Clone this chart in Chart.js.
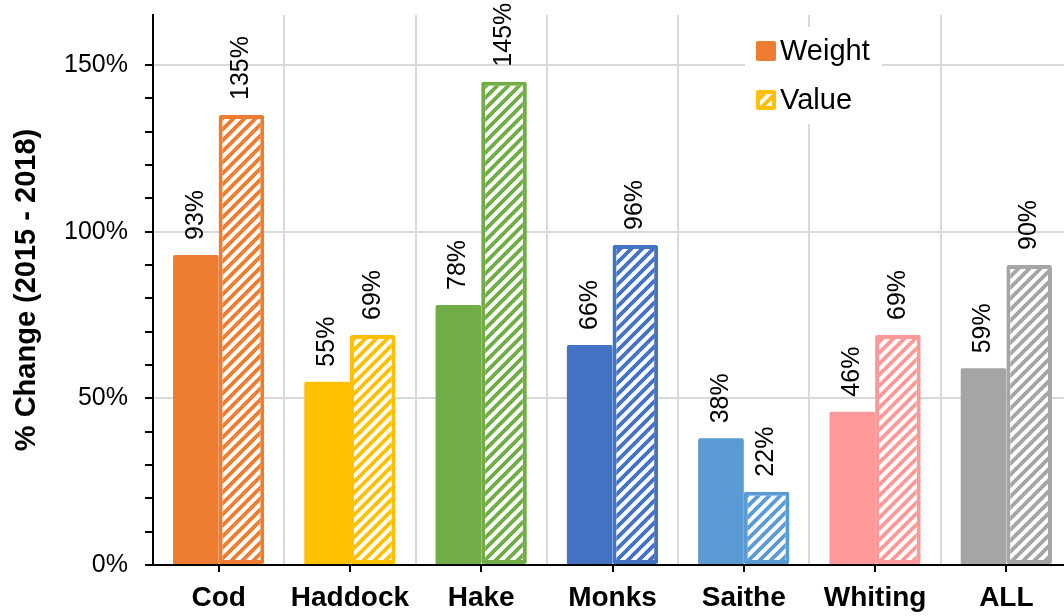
<!DOCTYPE html>
<html>
<head>
<meta charset="utf-8">
<script src="https://cdn.jsdelivr.net/npm/chart.js@4"></script>
<style>
  html, body { margin: 0; padding: 0; overflow: hidden; background: #fff; }
  #wrap { position: absolute; left: 0; top: 0; width: 1072px; height: 616px; }
</style>
</head>
<body>
<div id="wrap"><canvas id="change"></canvas></div>
<script>
const species = ['Cod', 'Haddock', 'Hake', 'Monks', 'Saithe', 'Whiting', 'ALL'];
const weightPct = [93, 55, 78, 66, 38, 46, 59];
const valuePct = [135, 69, 145, 96, 22, 69, 90];
const speciesColors = ['#ED7D31', '#FFC000', '#70AD47', '#4472C4', '#5B9BD5', '#FF9999', '#A5A5A5'];

Chart.defaults.font.family = "'Liberation Sans', Arial, sans-serif";
Chart.defaults.color = '#000';

// white background with diagonal stripes in the bar colour
function hatch(color) {
    const c = document.createElement('canvas');
    c.width = 11; c.height = 11;
    const g = c.getContext('2d');
    g.fillStyle = '#fff';
    g.fillRect(0, 0, 11, 11);
    g.strokeStyle = color;
    g.lineWidth = 3.8;
    g.beginPath();
    g.moveTo(-5.5, 5.5); g.lineTo(5.5, -5.5);
    g.moveTo(0, 11); g.lineTo(11, 0);
    g.moveTo(5.5, 16.5); g.lineTo(16.5, 5.5);
    g.stroke();
    return g.createPattern(c, 'repeat');
}

// rotated value labels above every bar
const barLabels = {
    id: 'barLabels',
    afterDatasetsDraw(chart) {
        const ctx = chart.ctx;
        ctx.save();
        ctx.font = "25px 'Liberation Sans', Arial, sans-serif";
        ctx.fillStyle = '#000';
        ctx.textAlign = 'left';
        ctx.textBaseline = 'middle';
        chart.data.datasets.forEach((ds, di) => {
            chart.getDatasetMeta(di).data.forEach((bar, i) => {
                ctx.save();
                ctx.translate(bar.x, bar.y - 15);
                ctx.rotate(-Math.PI / 2);
                ctx.fillText(Math.round(ds.data[i]) + '%', 0, 0);
                ctx.restore();
            });
        });
        ctx.restore();
    }
};

// x tick marks at category centres (grid lines sit between categories)
const centreTicks = {
    id: 'centreTicks',
    afterDraw(chart) {
        const x = chart.scales.x, ctx = chart.ctx;
        ctx.save();
        ctx.strokeStyle = '#000';
        ctx.lineWidth = 2;
        species.forEach((s, i) => {
            const px = Math.round(x.getPixelForValue(i));
            ctx.beginPath();
            ctx.moveTo(px, x.top);
            ctx.lineTo(px, x.top + 7);
            ctx.stroke();
        });
        ctx.restore();
    }
};

// legend box inside the plot
const insideLegend = {
    id: 'insideLegend',
    afterDatasetsDraw(chart) {
        const ctx = chart.ctx;
        ctx.save();
        ctx.fillStyle = '#fff';
        ctx.fillRect(745, 27, 137, 97);
        const items = [
            { text: chart.data.datasets[0].label, fill: speciesColors[0], border: speciesColors[0], y: 41 },
            { text: chart.data.datasets[1].label, fill: hatch(speciesColors[1]), border: speciesColors[1], y: 90 }
        ];
        items.forEach(it => {
            ctx.beginPath();
            ctx.roundRect(756, it.y, 20, 20, 2);
            ctx.fillStyle = it.border;
            ctx.fill();
            ctx.beginPath();
            ctx.rect(760, it.y + 4, 12, 12);
            ctx.fillStyle = it.fill;
            ctx.fill();
            ctx.fillStyle = '#000';
            ctx.font = "29px 'Liberation Sans', Arial, sans-serif";
            ctx.textAlign = 'left';
            ctx.textBaseline = 'middle';
            ctx.fillText(it.text, 780, it.y + 11);
        });
        ctx.restore();
    }
};

new Chart(document.getElementById('change'), {
    type: 'bar',
    data: {
        labels: species,
        datasets: [
            {
                label: 'Weight',
                data: weightPct,
                backgroundColor: speciesColors,
                borderColor: speciesColors,
                borderWidth: 0,
                borderRadius: 2,
                categoryPercentage: 0.695,
                barPercentage: 1.0
            },
            {
                label: 'Value',
                data: valuePct,
                backgroundColor: speciesColors.map(hatch),
                borderColor: speciesColors,
                borderWidth: 4,
                borderRadius: 2,
                borderSkipped: false,
                categoryPercentage: 0.695,
                barPercentage: 1.0
            }
        ]
    },
    options: {
        responsive: true,
        maintainAspectRatio: false,
        animation: false,
        layout: { padding: { top: 15, left: 0, right: 0, bottom: 0 } },
        plugins: {
            legend: { display: false },
            tooltip: { enabled: false }
        },
        scales: {
            x: {
                offset: true,
                grid: {
                    offset: true,
                    color: '#D9D9D9',
                    lineWidth: 2,
                    tickLength: 8,
                    tickColor: 'transparent'
                },
                border: { color: '#000', width: 2 },
                ticks: {
                    color: '#000',
                    padding: 8,
                    font: { size: 28, weight: 'bold' }
                },
                afterFit: (s) => { s.height = 51; s.paddingLeft = 0; s.paddingRight = 0; }
            },
            y: {
                min: 0,
                max: 165,
                afterBuildTicks: (a) => { a.ticks = a.ticks.filter(t => t.value % 10 === 0); },
                ticks: {
                    stepSize: 10,
                    color: '#000',
                    padding: 17,
                    font: { size: 25 },
                    callback: (v) => (v % 50 === 0 ? v + '%' : '')
                },
                grid: {
                    color: (c) => (c.tick && c.tick.value > 0 && c.tick.value % 50 === 0 ? '#D9D9D9' : 'rgba(0,0,0,0)'),
                    lineWidth: 2,
                    tickLength: 8,
                    tickColor: '#000',
                    tickWidth: 2
                },
                border: { color: '#000', width: 2 },
                title: {
                    display: true,
                    text: '% Change (2015 - 2018)',
                    color: '#000',
                    font: { size: 29, weight: 'bold' },
                    padding: { top: 10, bottom: 0 }
                },
                afterFit: (s) => { s.width = 153; s.paddingTop = 0; s.paddingBottom = 0; }
            }
        }
    },
    plugins: [barLabels, centreTicks, insideLegend]
});
</script>
</body>
</html>
